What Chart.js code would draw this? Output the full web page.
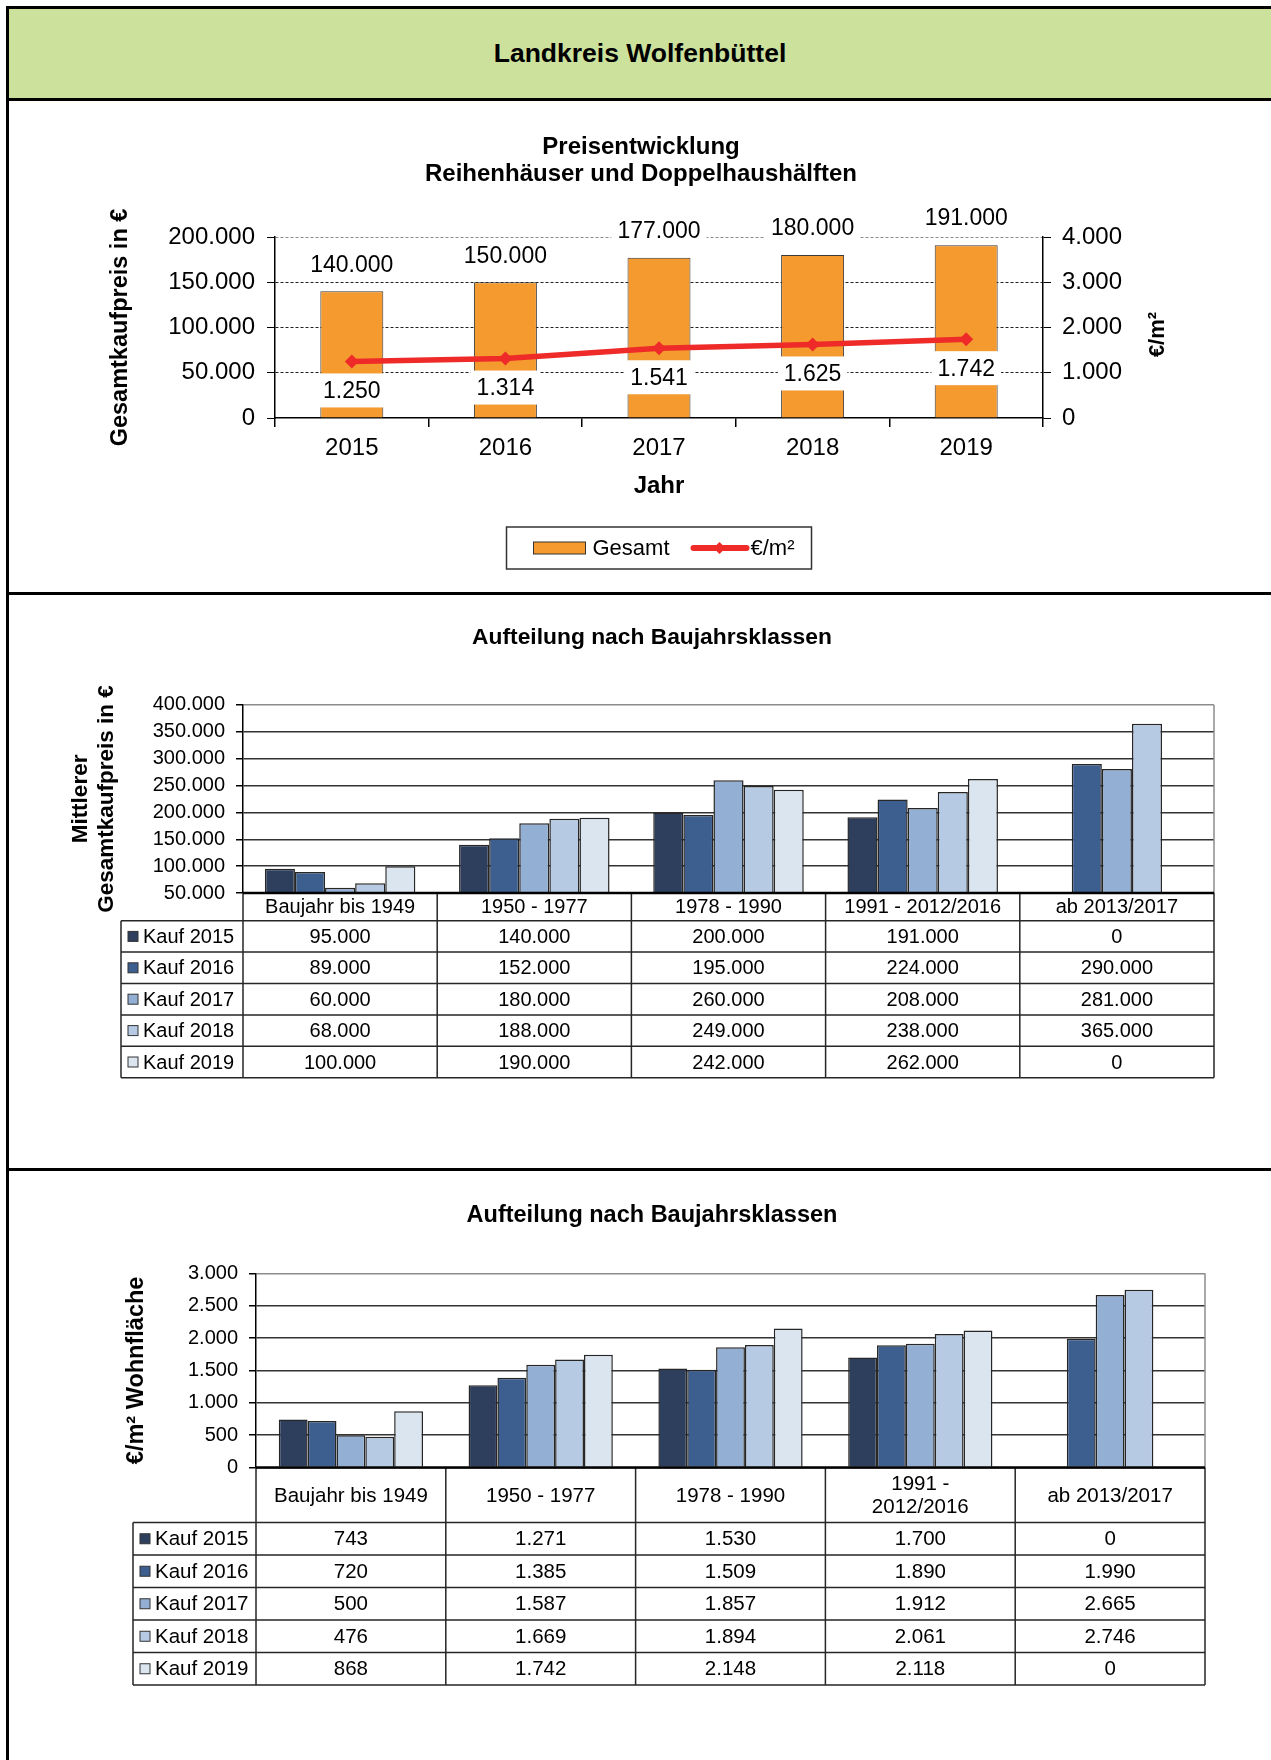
<!DOCTYPE html>
<html lang="de">
<head>
<meta charset="utf-8">
<title>Landkreis Wolfenbüttel</title>
<script src="https://cdn.jsdelivr.net/npm/chart.js@4.4.1/dist/chart.umd.min.js"></script>
<style>
  body { margin: 0; width: 1271px; height: 1760px; position: relative; overflow: hidden; background: #fff;
         font-family: "Liberation Sans", Arial, sans-serif; }
  canvas { position: absolute; left: 0; }
  .strich { position: absolute; background: #000; z-index: 2; }
  #kopf { position: absolute; left: 9px; top: 9px; width: 1262px; height: 89px; background: #cce19c;
          display: flex; align-items: center; justify-content: center; font-weight: bold; font-size: 26.5px; }
</style>
</head>
<body>
<div id="kopf">Landkreis Wolfenbüttel</div>
<canvas id="preise" width="1271" height="492" style="top:100px"></canvas>
<canvas id="gesamtBaujahr" width="1271" height="575" style="top:594px"></canvas>
<canvas id="qmBaujahr" width="1271" height="589" style="top:1171px"></canvas>
<div class="strich" style="left:6px;top:6px;width:1265px;height:3px"></div>
<div class="strich" style="left:6px;top:6px;width:3px;height:1754px"></div>
<div class="strich" style="left:6px;top:98px;width:1265px;height:3px"></div>
<div class="strich" style="left:6px;top:592px;width:1265px;height:3px"></div>
<div class="strich" style="left:6px;top:1168px;width:1265px;height:3px"></div>
<script>
// Preisentwicklung
const jahre = ['2015', '2016', '2017', '2018', '2019'];
const gesamtPreis = [140000, 150000, 177000, 180000, 191000];
const preisProQm = [1250, 1314, 1541, 1625, 1742];

// Aufteilung nach Baujahrsklassen
const baujahrKlassen = ['Baujahr bis 1949', '1950 - 1977', '1978 - 1990', '1991 - 2012/2016', 'ab 2013/2017'];
const baujahrKlassen2 = ['Baujahr bis 1949', '1950 - 1977', '1978 - 1990', ['1991 -', '2012/2016'], 'ab 2013/2017'];
const kaufJahre = ['Kauf 2015', 'Kauf 2016', 'Kauf 2017', 'Kauf 2018', 'Kauf 2019'];

const preis2015 = [95000, 140000, 200000, 191000, 0];
const preis2016 = [89000, 152000, 195000, 224000, 290000];
const preis2017 = [60000, 180000, 260000, 208000, 281000];
const preis2018 = [68000, 188000, 249000, 238000, 365000];
const preis2019 = [100000, 190000, 242000, 262000, 0];

const qm2015 = [743, 1271, 1530, 1700, 0];
const qm2016 = [720, 1385, 1509, 1890, 1990];
const qm2017 = [500, 1587, 1857, 1912, 2665];
const qm2018 = [476, 1669, 1894, 2061, 2746];
const qm2019 = [868, 1742, 2148, 2118, 0];

const FONT = '"Liberation Sans", Arial, sans-serif';
const ORANGE = '#f49a2f';
const ROT = '#ee2b29';
const blauTone = ['#2e3f5e', '#3d5f8f', '#94afd4', '#b6cae3', '#dbe5f0'];

Chart.defaults.font.family = FONT;
Chart.defaults.color = '#000';
Chart.defaults.animation = false;

// 1.250 statt 1250
function fmt(v) {
    return String(v).replace(/\B(?=(\d{3})+(?!\d))/g, '.');
}

// Diagrammtitel auf eine feste Mitte setzen
const titelMitte = {
    id: 'titelMitte',
    afterLayout(chart, args, o) {
        if (chart.titleBlock) {
            chart.titleBlock.left = o.mitte - 500;
            chart.titleBlock.right = o.mitte + 500;
        }
    }
};

// Werte ueber den Saeulen / unter den Punkten mit weissem Kasten
const wertLabels = {
    id: 'wertLabels',
    afterDatasetsDraw(chart) {
        let ctx = chart.ctx;
        ctx.save();
        ctx.font = '23px ' + FONT;
        ctx.textAlign = 'center';
        ctx.textBaseline = 'middle';
        chart.data.datasets.forEach((ds, di) => {
            chart.getDatasetMeta(di).data.forEach((el, i) => {
                let txt = fmt(ds.data[i]);
                let y = ds.type === 'line' ? el.y + 29 : el.y - 27;
                let w = ctx.measureText(txt).width + 12;
                ctx.fillStyle = '#fff';
                ctx.fillRect(el.x - w / 2, y - 17, w, 34);
                ctx.fillStyle = '#000';
                ctx.fillText(txt, el.x, y + 1);
            });
        });
        ctx.restore();
    }
};

// Legende mit Rahmen + rechter Achsentitel
const preisExtras = {
    id: 'preisExtras',
    afterDraw(chart) {
        let ctx = chart.ctx, a = chart.chartArea;
        let linie = chart.data.datasets[0], saeule = chart.data.datasets[1];
        ctx.save();
        // Titel der rechten Achse, von unten nach oben
        ctx.translate(a.right + 115, (a.top + a.bottom) / 2 + 7);
        ctx.rotate(-Math.PI / 2);
        ctx.font = 'bold 22px ' + FONT;
        ctx.textAlign = 'center';
        ctx.textBaseline = 'middle';
        ctx.fillStyle = '#000';
        ctx.fillText(chart.options.scales.y1.title.text, 0, 0);
        ctx.restore();

        let w = 305, h = 42;
        let left = (a.left + a.right) / 2 - w / 2;
        let top = chart.height - 65;
        let my = top + h / 2;
        ctx.save();
        ctx.strokeStyle = '#333';
        ctx.lineWidth = 1.5;
        ctx.strokeRect(left, top, w, h);
        ctx.fillStyle = saeule.backgroundColor;
        ctx.fillRect(left + 27, my - 6, 52, 12);
        ctx.lineWidth = 1;
        ctx.strokeRect(left + 27, my - 6, 52, 12);
        ctx.font = '22px ' + FONT;
        ctx.textBaseline = 'middle';
        ctx.fillStyle = '#000';
        ctx.fillText(saeule.label, left + 86, my + 1);
        ctx.strokeStyle = linie.borderColor;
        ctx.lineWidth = 6;
        ctx.lineCap = 'round';
        ctx.beginPath();
        ctx.moveTo(left + 187, my);
        ctx.lineTo(left + 240, my);
        ctx.stroke();
        ctx.fillStyle = linie.borderColor;
        ctx.beginPath();
        ctx.moveTo(left + 213, my - 6);
        ctx.lineTo(left + 219, my);
        ctx.lineTo(left + 213, my + 6);
        ctx.lineTo(left + 207, my);
        ctx.fill();
        ctx.fillStyle = '#000';
        ctx.fillText(linie.label, left + 244, my + 1);
        ctx.restore();
    }
};

new Chart(document.getElementById('preise'), {
    type: 'bar',
    data: {
        labels: jahre,
        datasets: [{
            type: 'line',
            label: '€/m²',
            data: preisProQm,
            yAxisID: 'y1',
            borderColor: ROT,
            backgroundColor: ROT,
            borderWidth: 5.5,
            pointStyle: 'rectRot',
            pointRadius: 7,
            pointBorderWidth: 0,
            order: 0
        }, {
            type: 'bar',
            label: 'Gesamt',
            data: gesamtPreis,
            yAxisID: 'y',
            backgroundColor: ORANGE,
            borderColor: '#3a3a3a',
            borderWidth: 1,
            barPercentage: 0.41,
            categoryPercentage: 1,
            order: 1
        }]
    },
    options: {
        responsive: false,
        layout: { padding: { left: 0, right: 0, top: 0, bottom: 84 } },
        plugins: {
            legend: { display: false },
            tooltip: { enabled: false },
            title: {
                display: true,
                text: ['Preisentwicklung', 'Reihenhäuser und Doppelhaushälften'],
                font: { size: 24, weight: 'bold', lineHeight: 1.125 },
                color: '#000',
                padding: { top: 33.5, bottom: 49.5 }
            },
            titelMitte: { mitte: 641 }
        },
        scales: {
            x: {
                grid: { drawOnChartArea: false, drawTicks: true, tickLength: 9, color: '#000', lineWidth: 1.5, offset: true },
                border: { color: '#000', width: 1.5 },
                ticks: { font: { size: 24 }, color: '#000', padding: 7 },
                title: { display: true, text: 'Jahr', font: { size: 24, weight: 'bold' }, color: '#000', padding: { top: 0, bottom: 7.6 } },
                afterFit: s => { s.height = 90; }
            },
            y: {
                position: 'left',
                min: 0,
                max: 200000,
                ticks: { stepSize: 50000, callback: v => fmt(v), font: { size: 24 }, color: '#000', padding: 12 },
                grid: {
                    color: c => c.tick.value === 0 ? 'rgba(0,0,0,0)' : (c.tick.value === 200000 ? '#8a8a8a' : '#222'),
                    tickColor: '#000',
                    tickLength: 8,
                    lineWidth: 1
                },
                border: { color: '#000', width: 1.5, dash: [3, 2] },
                title: { display: true, text: 'Gesamtkaufpreis in €', font: { size: 23.5, weight: 'bold' }, color: '#000', padding: { top: 106, bottom: 0 } },
                afterFit: s => { s.width = 275; }
            },
            y1: {
                position: 'right',
                min: 0,
                max: 4000,
                ticks: { stepSize: 1000, callback: v => fmt(v), font: { size: 24 }, color: '#000', padding: 11 },
                grid: { drawOnChartArea: false, tickColor: '#000', tickLength: 8 },
                border: { color: '#000', width: 1.5 },
                title: { display: false, text: '€/m²' },
                afterFit: s => { s.width = 228; }
            }
        }
    },
    plugins: [titelMitte, wertLabels, preisExtras]
});

// Rahmen rechts am Diagramm
const rahmen = {
    id: 'rahmen',
    beforeDatasetsDraw(chart) {
        let ctx = chart.ctx, a = chart.chartArea;
        ctx.save();
        ctx.strokeStyle = '#8c8c8c';
        ctx.lineWidth = 1.5;
        ctx.beginPath();
        ctx.moveTo(a.right, a.top);
        ctx.lineTo(a.right, a.bottom);
        ctx.stroke();
        ctx.restore();
    }
};

// Datentabelle unter dem Diagramm
const tabelle = {
    id: 'tabelle',
    afterDraw(chart, args, o) {
        let ctx = chart.ctx, a = chart.chartArea, x = chart.scales.x;
        let labels = chart.data.labels, sets = chart.data.datasets;
        let cw = x.getPixelForValue(1) - x.getPixelForValue(0);
        let kanten = labels.map((l, i) => x.getPixelForValue(i) - cw / 2);
        kanten.push(x.getPixelForValue(labels.length - 1) + cw / 2);
        let kopfUnten = a.bottom + o.kopfHoehe;
        let unten = kopfUnten + sets.length * o.zeilenHoehe;
        ctx.save();
        ctx.strokeStyle = '#262626';
        ctx.lineWidth = 1.5;
        ctx.beginPath();
        kanten.forEach(k => { ctx.moveTo(k, a.bottom); ctx.lineTo(k, unten); });
        ctx.moveTo(o.links, kopfUnten);
        ctx.lineTo(o.links, unten);
        for (let r = 0; r <= sets.length; r++) {
            let yy = kopfUnten + r * o.zeilenHoehe;
            ctx.moveTo(o.links, yy);
            ctx.lineTo(kanten[kanten.length - 1], yy);
        }
        ctx.stroke();
        ctx.strokeStyle = '#000';
        ctx.lineWidth = 2.5;
        ctx.beginPath();
        ctx.moveTo(a.left, a.bottom);
        ctx.lineTo(a.right, a.bottom);
        ctx.stroke();

        ctx.font = o.schrift + 'px ' + FONT;
        ctx.fillStyle = '#000';
        ctx.textAlign = 'center';
        ctx.textBaseline = 'middle';
        labels.forEach((l, i) => {
            let zeilen = Array.isArray(l) ? l : [l];
            let my = a.bottom + o.kopfHoehe / 2 + 1;
            zeilen.forEach((z, j) => {
                ctx.fillText(z, x.getPixelForValue(i), my + (j - (zeilen.length - 1) / 2) * o.kopfZeile);
            });
        });
        sets.forEach((ds, r) => {
            let my = kopfUnten + (r + 0.5) * o.zeilenHoehe;
            ctx.textAlign = 'center';
            ctx.fillStyle = '#000';
            ds.werte.forEach((v, i) => ctx.fillText(fmt(v), x.getPixelForValue(i), my + 1));
            ctx.fillStyle = ds.backgroundColor;
            ctx.fillRect(o.links + 7, my - 5, 10, 10);
            ctx.strokeStyle = '#333';
            ctx.lineWidth = 1;
            ctx.strokeRect(o.links + 7, my - 5, 10, 10);
            ctx.fillStyle = '#000';
            ctx.textAlign = 'left';
            ctx.fillText(ds.label, o.links + 22, my + 1);
        });
        ctx.restore();
    }
};

function baujahrChart(id, klassen, reihen, s) {
    return new Chart(document.getElementById(id), {
        type: 'bar',
        data: {
            labels: klassen,
            datasets: reihen.map((werte, i) => ({
                label: kaufJahre[i],
                werte: werte,
                data: werte.map(v => v === 0 ? null : v),
                backgroundColor: blauTone[i],
                borderColor: '#262626',
                borderWidth: 1.5,
                barPercentage: 1,
                categoryPercentage: s.gruppe
            }))
        },
        options: {
            responsive: false,
            layout: { padding: { left: 0, right: s.rechts, top: 0, bottom: s.unten } },
            plugins: {
                legend: { display: false },
                tooltip: { enabled: false },
                title: {
                    display: true,
                    text: 'Aufteilung nach Baujahrsklassen',
                    font: { size: s.titelSchrift, weight: 'bold', lineHeight: 1.2 },
                    color: '#000',
                    padding: { top: s.titelOben, bottom: s.titelUnten }
                },
                titelMitte: { mitte: 652 },
                tabelle: s.tabelle
            },
            scales: {
                x: { display: false },
                y: {
                    min: s.min,
                    max: s.max,
                    ticks: { stepSize: s.schritt, autoSkip: false, callback: v => fmt(v), font: { size: 20 }, color: '#000', padding: 11 },
                    grid: {
                        color: c => c.tick.value === s.max ? '#8c8c8c' : '#333',
                        tickColor: '#000',
                        tickLength: 7,
                        lineWidth: 1.5
                    },
                    border: { color: '#000', width: 1.5 },
                    title: { display: true, text: s.achsTitel, font: { size: s.achsSchrift, weight: 'bold', lineHeight: s.achsZeile }, color: '#000', padding: { top: s.achsAbstand, bottom: 0 } },
                    afterFit: sc => { sc.width = s.links; }
                }
            }
        },
        plugins: [titelMitte, rahmen, tabelle]
    });
}

baujahrChart('gesamtBaujahr', baujahrKlassen, [preis2015, preis2016, preis2017, preis2018, preis2019], {
    gruppe: 0.775, min: 50000, max: 400000, schritt: 50000,
    links: 243, rechts: 57, unten: 276, titelSchrift: 22.8, titelOben: 30.3, titelUnten: 53.3,
    achsTitel: ['Mittlerer', 'Gesamtkaufpreis in €'], achsSchrift: 22.5, achsZeile: 1.16, achsAbstand: 68,
    tabelle: { links: 121, kopfHoehe: 27.7, kopfZeile: 23, zeilenHoehe: 31.4, schrift: 20 }
});

baujahrChart('qmBaujahr', baujahrKlassen2, [qm2015, qm2016, qm2017, qm2018, qm2019], {
    gruppe: 0.76, min: 0, max: 3000, schritt: 500,
    links: 256, rechts: 66, unten: 292.5, titelSchrift: 23.5, titelOben: 30.9, titelUnten: 43.2,
    achsTitel: '€/m² Wohnfläche', achsSchrift: 23.5, achsZeile: 1.2, achsAbstand: 122,
    tabelle: { links: 133, kopfHoehe: 55, kopfZeile: 23, zeilenHoehe: 32.5, schrift: 20.5 }
});
</script>
</body>
</html>
